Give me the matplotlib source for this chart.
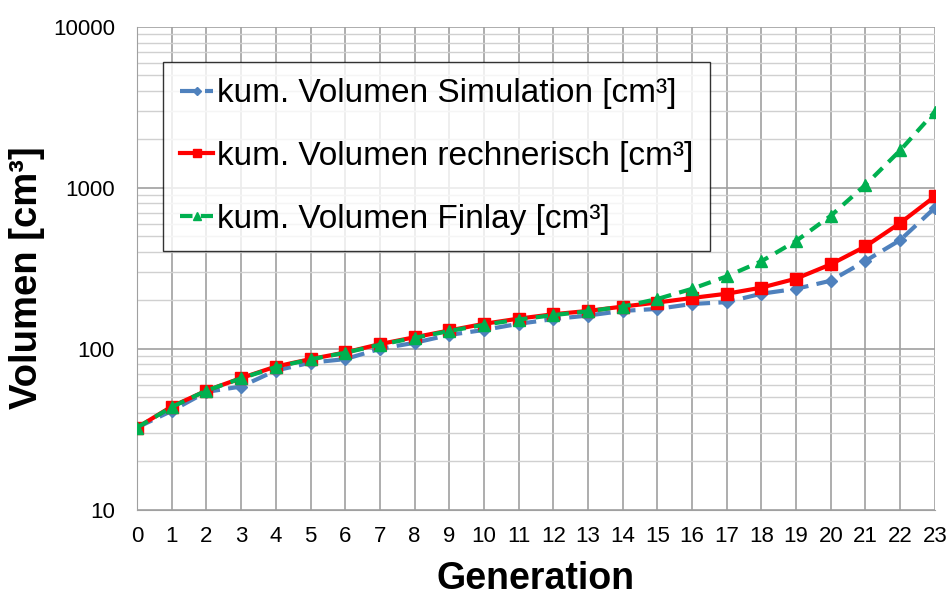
import numpy as np
import matplotlib.pyplot as plt
from matplotlib.ticker import LogLocator, FixedLocator, NullFormatter

plt.rcParams['font.family'] = ['Liberation Sans', 'DejaVu Sans']

# Generationen 0..23
gen = np.arange(0, 24)

# kumuliertes Volumen aus Simulation [cm³]
vol_sim = [32.4, 41.2, 54, 58.3, 73.3, 82, 86.3, 100, 109, 122, 131, 143,
           153, 161, 172, 177, 190, 195, 220, 236, 265, 352, 474, 752]

# kumuliertes Volumen rechnerisch [cm³]
vol_rech = [32.4, 43.8, 55, 65.8, 77.6, 86.3, 94.9, 107, 118, 130, 143, 154,
            164, 172, 183, 194, 207, 220, 240, 273, 335, 433, 605, 885]

# kumuliertes Volumen nach Finlay [cm³]
vol_finlay = [32.4, 43.5, 55, 65.5, 77, 86, 94.5, 106, 117, 129, 141, 152,
              162, 171, 183, 204, 236, 282, 350, 468, 671, 1045, 1710, 2972]

labels = ["kum. Volumen Simulation [cm³]",
          "kum. Volumen rechnerisch [cm³]",
          "kum. Volumen Finlay [cm³]"]

fig = plt.figure(figsize=(9.52, 5.99), dpi=100)
ax = fig.add_axes([0.144, 0.149, 0.838, 0.806])

ax.plot(gen, vol_sim, color='#4F81BD', linestyle=(0, (4, 2)), linewidth=3,
        marker='D', markersize=6, label=labels[0], zorder=3)
ax.plot(gen, vol_rech, color='#FF0000', linestyle='-', linewidth=3,
        marker='s', markersize=8, label=labels[1], zorder=4)
ax.plot(gen, vol_finlay, color='#00B050', linestyle=(0, (3, 2)), linewidth=3,
        marker='^', markersize=8, label=labels[2], zorder=5)

ax.set_yscale('log')
ax.set_ylim(10, 10000)
ax.set_xlim(0, 23)
ax.set_xticks(gen)
ax.yaxis.set_major_locator(FixedLocator([10, 100, 1000, 10000]))
ax.set_yticklabels(['10', '100', '1000', '10000'])
ax.yaxis.set_minor_locator(LogLocator(base=10, subs=np.arange(2, 10)))
ax.yaxis.set_minor_formatter(NullFormatter())

ax.grid(which='major', color='#A0A0A0', linewidth=1.2)
ax.grid(which='minor', axis='y', color='#D0D0D0', linewidth=1.0)
ax.set_axisbelow(True)

for s in ['top', 'right']:
    ax.spines[s].set_visible(False)
ax.spines['left'].set_color('#A0A0A0')
ax.spines['bottom'].set_color('#A0A0A0')
ax.tick_params(which='both', length=0, labelsize=16)
ax.tick_params(axis='x', pad=12)
ax.tick_params(axis='y', pad=16)

ax.set_xlabel("Generation", fontsize=27, fontweight='bold', labelpad=10)
ax.set_ylabel("Volumen [cm³]", fontsize=27.5, fontweight='bold', va='center')
ax.yaxis.set_label_coords(-0.138, 0.48)

leg = ax.legend(loc='upper left', bbox_to_anchor=(0.033, 0.928),
                borderaxespad=0, fontsize=24,
                frameon=True, fancybox=False, edgecolor='black',
                handlelength=1.0, handletextpad=0.12, labelspacing=0.95,
                borderpad=0.5, markerscale=0.7)
leg.get_frame().set_linewidth(1.0)

fig.savefig('out.png', dpi=100)
